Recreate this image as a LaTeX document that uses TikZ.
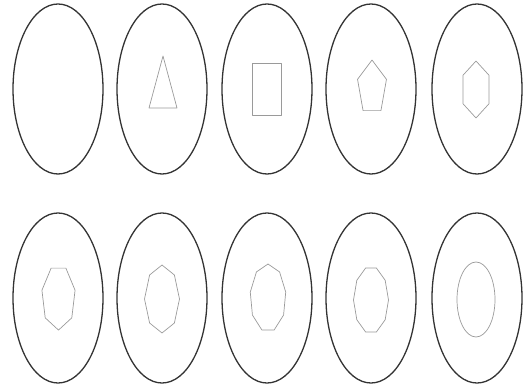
\documentclass[tikz,border=0pt]{standalone}
\usetikzlibrary{shapes.geometric}
\definecolor{RimGray}{HTML}{333333}
\definecolor{ShapeGray}{HTML}{9A9A9A}
\tikzset{
  rim/.style={ellipse,draw=RimGray,line width=1.3pt,minimum width=90pt,minimum height=170pt,inner sep=0pt},
  inner shape/.style={draw=ShapeGray,line width=0.7pt,line join=round}
}
% #1,#2 centre, #3,#4 radii, #5 corners, #6 start angle
\newcommand{\ngonshape}[6]{%
  \draw[inner shape] ({#1+#3*cos(#6)},{#2+#4*sin(#6)})
    \foreach \k in {1,...,#5}{ -- ({#1+#3*cos(#6+360*\k/#5)},{#2+#4*sin(#6+360*\k/#5)}) } -- cycle;
}

\begin{document}
\begin{tikzpicture}[x=1pt,y=-1pt]
  \useasboundingbox (0,0) rectangle (530,387);
  % outer rims
  \foreach \x [count=\i] in {58,162,267,371,477}{
    \node[rim] (top\i) at (\x,89) {};
    \node[rim] (bot\i) at (\x,298) {};
  }
  % upper row
  \draw[inner shape] (163,56) -- (149,108) -- (177,108) -- cycle;
  \draw[inner shape] (252,63) rectangle (281,115);
  \ngonshape{372}{88}{15.2}{28}{5}{-90}
  \ngonshape{476}{89.5}{15}{28.5}{6}{-90}
  % lower row
  \ngonshape{58.5}{297.5}{17}{32.6}{7}{90}
  \ngonshape{162}{299}{17.5}{34}{8}{90}
  \ngonshape{268}{298}{18}{34}{9}{-90}
  \ngonshape{371}{300}{17.5}{33.6}{10}{-72}
  \draw[inner shape] (476,299.5) ellipse[x radius=19,y radius=37.5];
\end{tikzpicture}
\end{document}
